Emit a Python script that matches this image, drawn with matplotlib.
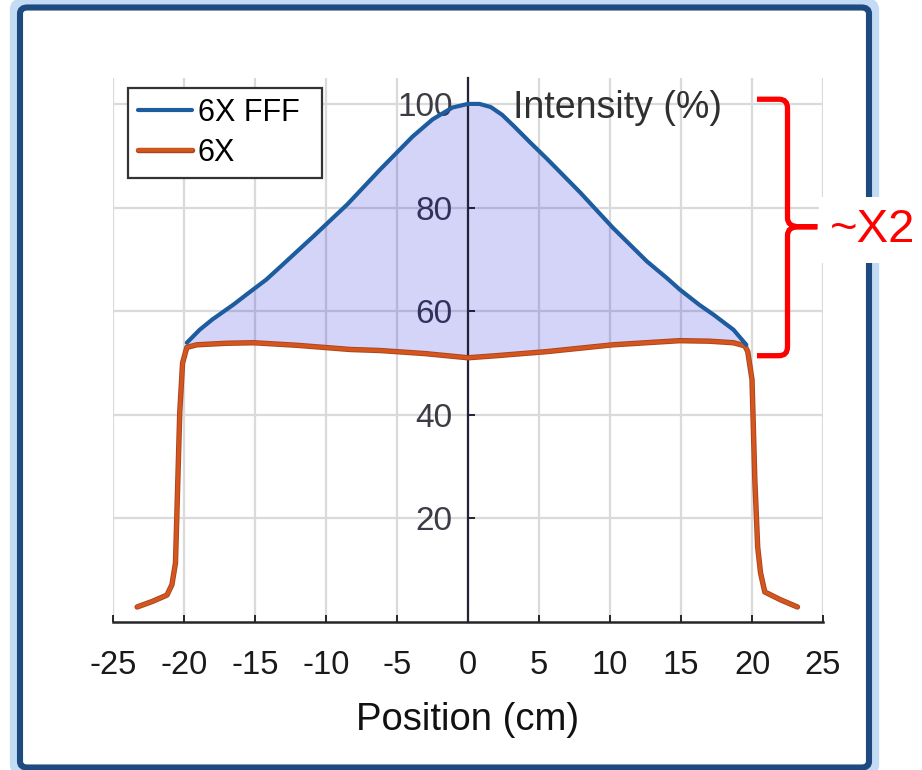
import matplotlib
matplotlib.use("Agg")
from matplotlib import pyplot as plt, patches as mpatches, patheffects as pe
from matplotlib.path import Path

plt.rcParams['font.family'] = ['Liberation Sans', 'DejaVu Sans']

# 6X FFF profile (flattening filter free)
pos_fff = [-19.8, -18.9, -18.0, -16.5, -15.6, -14.2, -13.2, -10.9, -8.5, -6.2, -3.9, -2.5, -1.1,
           0.0, 0.8, 1.6, 2.4, 3.2, 4.4, 5.6, 7.9, 10.2, 12.6, 14.0, 14.9, 16.3, 17.3, 18.7, 19.6]
int_fff = [53.9, 56.4, 58.4, 61.3, 63.2, 66.1, 68.6, 74.4, 80.6, 87.3, 93.7, 97.0, 99.3,
           100.0, 100.0, 99.4, 97.9, 95.8, 92.5, 89.3, 82.9, 76.1, 69.6, 66.4, 64.2, 61.2, 59.3, 56.4, 53.5]

# 6X profile (flattened)
pos_6x = [-23.3, -22.2, -21.2, -20.85, -20.6, -20.5, -20.3, -20.1, -19.8, -19.1, -17.0, -15.1,
          -12.0, -8.3, -6.2, -3.0, 0.0, 2.0, 5.6, 10.2, 14.9, 17.0, 18.7, 19.5, 19.7, 20.0,
          20.2, 20.4, 20.6, 20.9, 22.0, 23.2]
int_6x = [2.9, 4.0, 5.2, 7.2, 11.4, 21.0, 40.4, 50.0, 53.0, 53.5, 53.8, 53.9,
          53.4, 52.6, 52.4, 51.8, 51.0, 51.4, 52.2, 53.5, 54.3, 54.2, 53.9, 53.3, 52.2, 46.8,
          27.4, 14.5, 9.5, 5.8, 4.3, 2.9]

x_ticks = [-25, -20, -15, -10, -5, 0, 5, 10, 15, 20, 25]
y_ticks = [20, 40, 60, 80, 100]

fig = plt.figure(figsize=(9.22, 7.70), dpi=100)
ax = fig.add_axes([113 / 922, 1 - 622 / 770, 710 / 922, 544 / 770])

# shaded region between the two profiles
inner = [(x, y) for x, y in zip(pos_6x, int_6x) if pos_fff[0] <= x <= pos_fff[-1]]
poly_x = list(pos_fff) + [p[0] for p in reversed(inner)]
poly_y = list(int_fff) + [p[1] for p in reversed(inner)]
ax.fill(poly_x, poly_y, color='#0000d6', alpha=0.17, lw=0, zorder=1.6)

ax.plot(pos_fff, int_fff, color='#1d5c9e', lw=3.0, label='6X FFF', zorder=3,
        solid_capstyle='round', solid_joinstyle='round')
ax.plot(pos_6x, int_6x, color='#d4561e', lw=2.6, label='6X', zorder=2.9,
        solid_capstyle='round', solid_joinstyle='round',
        path_effects=[pe.Stroke(linewidth=3.9, foreground='#a9441d'), pe.Normal()])

ax.set_xlim(-25, 25)
ax.set_ylim(0, 105)
ax.set_xticks(x_ticks)
ax.set_xticklabels([str(t) for t in x_ticks])
ax.set_yticks(y_ticks)
ax.grid(True, color='#dadada', lw=1.6)

for s in ['top', 'right']:
    ax.spines[s].set_visible(False)
ax.spines['left'].set_position(('data', 0))
ax.spines['left'].set_color('#23233a')
ax.spines['left'].set_linewidth(1.6)
ax.spines['bottom'].set_color('#262626')
ax.spines['bottom'].set_linewidth(1.8)

ax.tick_params(axis='x', direction='in', length=5, width=1.4, pad=20, labelsize=23.5,
               colors='#262626', labelcolor='#1a1a1a')
ax.tick_params(axis='y', direction='in', length=5, width=1.4, pad=11, labelsize=24,
               colors='#23233a', labelcolor='#3c3c46')

ax.set_xlabel('Position (cm)', fontsize=27.5, color='#111111', labelpad=15)
ax.text(3.2, 99.2, 'Intensity (%)', fontsize=27, color='#303030', va='center', ha='left')

leg = ax.legend(loc='upper left', bbox_to_anchor=(128 / 922, 1 - 178 / 770, 194 / 922, 90 / 770),
                bbox_transform=fig.transFigure, mode='expand', borderaxespad=0,
                fontsize=22, handlelength=1.75, handletextpad=0.2, labelspacing=0.32,
                borderpad=0.33, fancybox=False, framealpha=1, edgecolor='#333333')
leg.get_frame().set_linewidth(1.6)
for t in leg.get_texts():
    t.set_color('#000000')

# red curly brace marking the ~2x ratio
brace = Path([(20.35, 100.9), (21.9, 100.9), (22.5, 100.9), (22.5, 99.2),
              (22.5, 78.0), (22.5, 76.3), (23.3, 76.3), (24.6, 76.3),
              (23.3, 76.3), (22.5, 76.3), (22.5, 74.6),
              (22.5, 53.1), (22.5, 51.4), (21.9, 51.4), (20.35, 51.4)],
             [Path.MOVETO, Path.LINETO, Path.CURVE3, Path.CURVE3,
              Path.LINETO, Path.CURVE3, Path.CURVE3, Path.LINETO,
              Path.LINETO, Path.CURVE3, Path.CURVE3,
              Path.LINETO, Path.CURVE3, Path.CURVE3, Path.LINETO])
ax.add_patch(mpatches.PathPatch(brace, fill=False, edgecolor='#ff0000', lw=3.8,
                                clip_on=False, zorder=5, capstyle='butt'))

# blue picture frame with soft glow
fig.patches.append(mpatches.FancyBboxPatch((14 / 922, 1 - 772 / 770), 861 / 922, 770 / 770,
                                           boxstyle='round,pad=0,rounding_size=0.01',
                                           transform=fig.transFigure, fill=False,
                                           edgecolor='#c4dbf6', lw=6, zorder=1))
fig.patches.append(mpatches.FancyBboxPatch((20 / 922, 1 - 767.5 / 770), 849 / 922, 760 / 770,
                                           boxstyle='round,pad=0,rounding_size=0.008',
                                           transform=fig.transFigure, fill=False,
                                           edgecolor='#1f4a80', lw=4.4, zorder=1.1))

fig.text(830 / 922, 1 - 230 / 770, '~X2', color='#ff0000', fontsize=34, va='center', ha='left',
         zorder=4, bbox=dict(facecolor='white', edgecolor='none', pad=8))

fig.savefig('out.png', dpi=100)
